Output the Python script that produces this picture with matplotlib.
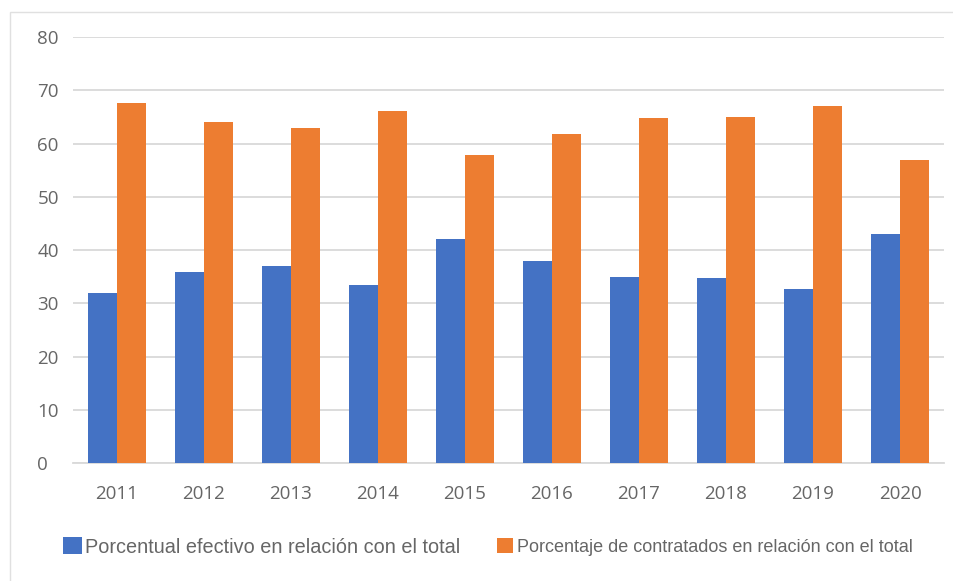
import matplotlib
matplotlib.use("Agg")
import matplotlib.pyplot as plt
import numpy as np
from matplotlib.patches import Rectangle

years = ["2011", "2012", "2013", "2014", "2015", "2016", "2017", "2018", "2019", "2020"]
efectivo = [32.0, 35.8, 37.0, 33.5, 42.0, 38.0, 35.0, 34.7, 32.7, 43.1]
contratados = [67.7, 64.0, 62.9, 66.2, 57.9, 61.9, 64.8, 65.0, 67.0, 56.9]
series_names = ["Porcentual efectivo en relación con el total",
                "Porcentaje de contratados en relación con el total"]
colors = ["#4472C4", "#ED7D31"]

plt.rcParams['font.family'] = ['Open Sans', 'DejaVu Sans']

fig = plt.figure(figsize=(9.54, 5.81), dpi=100)
ax = fig.add_axes([0.077, 0.203, 0.912, 0.733])

x = np.arange(len(years))
w = 0.333
b1 = ax.bar(x - w/2, efectivo, w, color=colors[0], label=series_names[0], zorder=3)
b2 = ax.bar(x + w/2, contratados, w, color=colors[1], label=series_names[1], zorder=3)

ax.set_xlim(-0.5, len(years) - 0.5)
ax.set_ylim(0, 80)
ax.set_yticks(range(0, 81, 10))
ax.set_xticks(x)
ax.set_xticklabels(years)
ax.yaxis.grid(True, color="#D9D9D9", linewidth=1.3, zorder=0)
ax.set_axisbelow(True)
for s in ["top", "right", "left"]:
    ax.spines[s].set_visible(False)
ax.spines["bottom"].set_color("#D9D9D9")
ax.spines["bottom"].set_linewidth(1.3)
ax.tick_params(axis="both", length=0, labelsize=13.5, colors="#666666")
ax.tick_params(axis="y", pad=26)
ax.tick_params(axis="x", pad=16)
for lbl in ax.get_yticklabels():
    lbl.set_horizontalalignment("left")

leg1 = fig.legend(handles=[b1], loc="center left", bbox_to_anchor=(63/954, 0.0585),
                  frameon=False, borderpad=0, borderaxespad=0,
                  handlelength=0.95, handleheight=0.95, handletextpad=0.15,
                  prop={'family': ['Liberation Sans'], 'size': 14.3})
leg2 = fig.legend(handles=[b2], loc="center left", bbox_to_anchor=(497/954, 0.0585),
                  frameon=False, borderpad=0, borderaxespad=0,
                  handlelength=0.9, handleheight=0.9, handletextpad=0.2,
                  prop={'family': ['Liberation Sans'], 'size': 13.0})
for lg in (leg1, leg2):
    for t in lg.get_texts():
        t.set_color("#666666")

fig.patches.append(Rectangle((0.011, -0.01), 1.0, 0.99, transform=fig.transFigure,
                             fill=False, edgecolor="#E0E0E0", linewidth=1.0))

fig.savefig("out.png", dpi=100)
